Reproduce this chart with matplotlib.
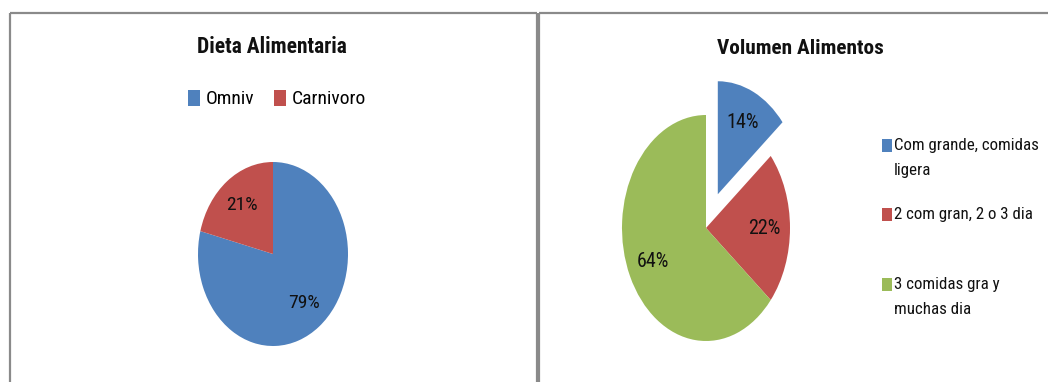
import matplotlib
matplotlib.use('Agg')
import matplotlib.pyplot as plt
from matplotlib import font_manager
from matplotlib.lines import Line2D
from matplotlib.patches import Rectangle

# ---------------- data ----------------
diet_title = 'Dieta Alimentaria'
diet_labels = ['Omniv', 'Carnivoro']
diet_values = [79, 21]
diet_colors = ['#4F81BD', '#C0504D']

vol_title = 'Volumen Alimentos'
vol_labels = ['Com grande, comidas\nligera', '2 com gran, 2 o 3 dia', '3 comidas gra y\nmuchas dia']
vol_values = [14, 22, 64]
vol_colors = ['#4F81BD', '#C0504D', '#9BBB59']
vol_explode = [0.33, 0, 0]

# ---------------- fonts ----------------
names = {f.name for f in font_manager.fontManager.ttflist}
FONT = next((n for n in ['Liberation Sans Narrow', 'Roboto Condensed', 'Open Sans Condensed',
                         'Liberation Sans'] if n in names), 'DejaVu Sans')
plt.rcParams['font.family'] = [FONT, 'DejaVu Sans']

W, H = 1048, 382
fig = plt.figure(figsize=(W / 100, H / 100), dpi=100)
fig.patch.set_facecolor('white')


def px_axes(cx, cy, rx, ry, scale):
    # cx, cy: pie centre in pixels (y from top); rx, ry: pie radii in pixels
    return fig.add_axes([(cx - rx * scale) / W, (H - cy - ry * scale) / H,
                         2 * rx * scale / W, 2 * ry * scale / H])


# ---------------- panel borders ----------------
gray = '#8a8a8a'
lw = 1.6
top = 1 - 13 / H
for seg in [([10, 10], [0, top]), ([10, 537], [top, top]), ([537, 537], [0, top]),
            ([539, 539], [0, top]), ([539, 1048], [top, top])]:
    xs = [v / W for v in seg[0]]
    fig.add_artist(Line2D(xs, seg[1], transform=fig.transFigure, color=gray, lw=lw,
                          solid_capstyle='butt'))

# ---------------- left pie ----------------
s1 = 1.1
ax1 = px_axes(273, 254, 75, 92, s1)
w1, _, at1 = ax1.pie(diet_values, colors=diet_colors, startangle=90, counterclock=False,
                     autopct='%1.0f%%', pctdistance=0.67,
                     wedgeprops=dict(linewidth=0), textprops=dict(fontsize=14, color='#111111'))
ax1.set_aspect('auto')
ax1.set_xlim(-s1, s1)
ax1.set_ylim(-s1, s1)
ax1.axis('off')

fig.text(272 / W, 1 - 47 / H, diet_title, ha='center', va='center', fontsize=15.5,
         fontweight='bold', color='#111111')
fig.legend(w1, diet_labels, loc='center', bbox_to_anchor=(277 / W, 1 - 99 / H), ncol=2,
           frameon=False, fontsize=14, handlelength=0.6, handleheight=0.9,
           handletextpad=0.3, columnspacing=1.0, borderpad=0, borderaxespad=0)

# ---------------- right pie ----------------
s2 = 1.5
ax2 = px_axes(706, 228, 84, 113, s2)
w2, _, at2 = ax2.pie(vol_values, colors=vol_colors, startangle=90, counterclock=False,
                     explode=vol_explode, autopct='%1.0f%%', pctdistance=0.7,
                     wedgeprops=dict(linewidth=0), textprops=dict(fontsize=14.5, color='#111111'))
ax2.set_aspect('auto')
ax2.set_xlim(-s2, s2)
ax2.set_ylim(-s2, s2)
ax2.axis('off')

fig.text(800 / W, 1 - 48 / H, vol_title, ha='center', va='center', fontsize=15.3,
         fontweight='bold', color='#111111')

# legend on the right (Excel-like layout)
leg_y = [146, 215, 285]  # first-line centre (pixels from top)
for wedge, label, y in zip(w2, vol_labels, leg_y):
    fig.add_artist(Rectangle((882 / W, (H - y - 6) / H), 10 / W, 13 / H,
                             transform=fig.transFigure, facecolor=wedge.get_facecolor(),
                             edgecolor='none'))
    fig.text(894 / W, 1 - (y - 8) / H, label, ha='left', va='top', fontsize=12.2,
             linespacing=1.85, color='#111111')

fig.savefig('out.png', dpi=100, facecolor='white')
